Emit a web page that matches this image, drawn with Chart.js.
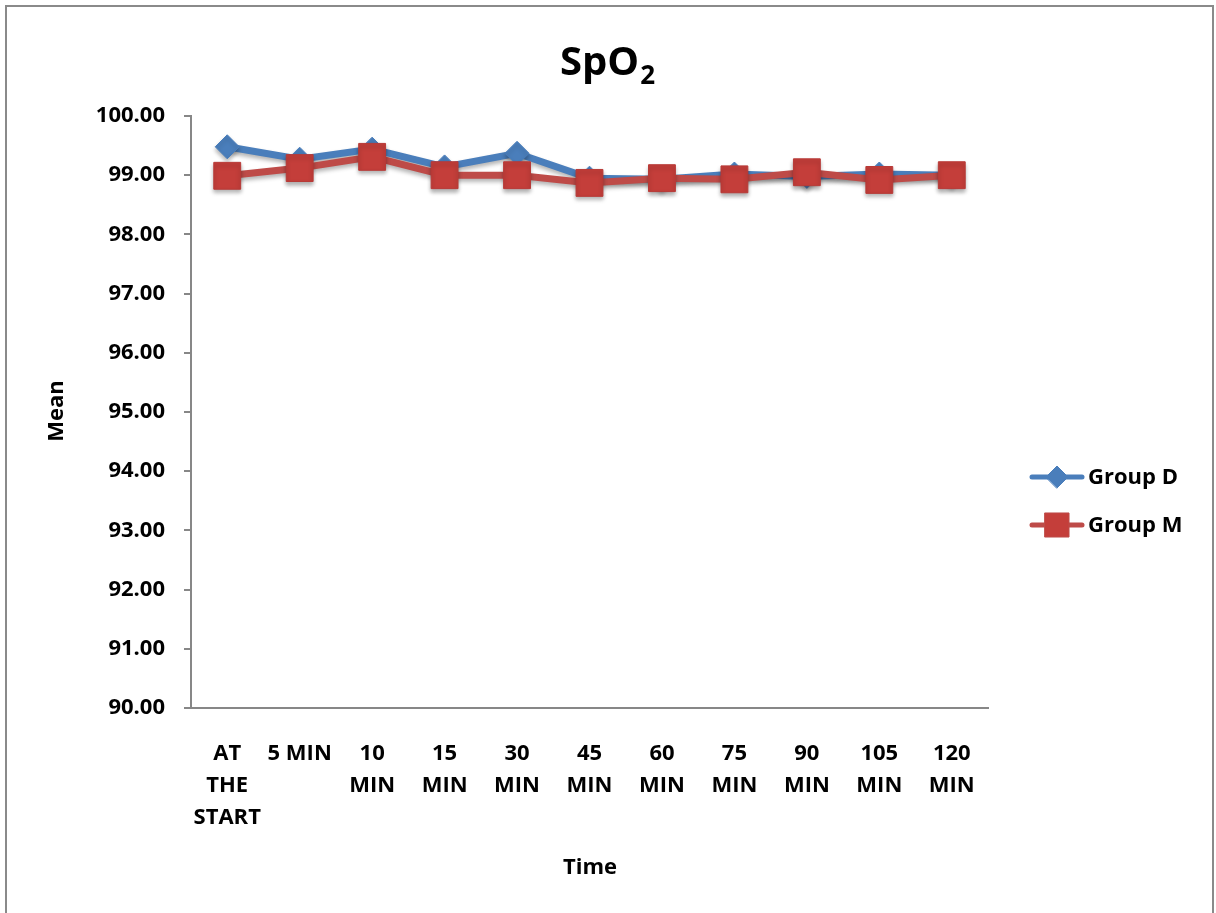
<!DOCTYPE html>
<html>
<head>
<meta charset="utf-8">
<script src="https://cdn.jsdelivr.net/npm/chart.js@4.4.1/dist/chart.umd.min.js"></script>
<style>
  body { margin: 0; background: #fff; }
  #frame { position: absolute; left: 5px; top: 5px; width: 1205px; height: 920px; border: 2px solid #8a8a8a; }
  #wrap { position: absolute; left: 0; top: 0; width: 1216px; height: 913px; }
</style>
</head>
<body>
<div id="frame"></div>
<div id="wrap"><canvas id="grafico" width="1216" height="913"></canvas></div>
<script>
const categorias = [["AT", "THE", "START"], "5 MIN", ["10", "MIN"], ["15", "MIN"], ["30", "MIN"], ["45", "MIN"], ["60", "MIN"], ["75", "MIN"], ["90", "MIN"], ["105", "MIN"], ["120", "MIN"]];
const grupoD = [99.48, 99.27, 99.44, 99.14, 99.37, 98.95, 98.93, 99.02, 98.98, 99.02, 99.0];
const grupoM = [98.99, 99.12, 99.31, 99.0, 99.0, 98.87, 98.95, 98.93, 99.05, 98.92, 99.0];
const yMin = 90, yMax = 100, yPaso = 1;

const fuente = "'Open Sans', sans-serif";
const azul = "#4A7EBB";
const rojo = "#BE4B48";

// titulos, leyenda y sombras dibujados a mano
const extras = {
  id: "extras",
  beforeDatasetDraw(chart) {
    const ctx = chart.ctx;
    ctx.save();
    ctx.shadowColor = "rgba(0,0,0,0.3)";
    ctx.shadowBlur = 4;
    ctx.shadowOffsetY = 3;
  },
  afterDatasetDraw(chart) {
    chart.ctx.restore();
  },
  afterDraw(chart) {
    const ctx = chart.ctx;
    ctx.save();
    ctx.fillStyle = "#000";

    // titulo SpO2
    ctx.font = `bold 40px ${fuente}`;
    ctx.textBaseline = "alphabetic";
    ctx.textAlign = "left";
    const w1 = ctx.measureText("SpO").width;
    ctx.font = `bold 26px ${fuente}`;
    const w2 = ctx.measureText("2").width;
    const x0 = 607 - (w1 + w2) / 2;
    ctx.font = `bold 40px ${fuente}`;
    ctx.fillText("SpO", x0, 75);
    ctx.font = `bold 26px ${fuente}`;
    ctx.fillText("2", x0 + w1 + 1, 84);

    // ejes
    ctx.font = `bold 22px ${fuente}`;
    ctx.textAlign = "center";
    ctx.textBaseline = "middle";
    ctx.fillText("Time", 590, 868);
    ctx.save();
    ctx.translate(57, 411);
    ctx.rotate(-Math.PI / 2);
    ctx.fillText("Mean", 0, 0);
    ctx.restore();

    // leyenda
    const items = [
      { label: "Group D", color: azul, y: 477, estilo: "rectRot", r: 11, fill: azul },
      { label: "Group M", color: rojo, y: 525, estilo: "rect", r: 17, fill: "#C43E3A" }
    ];
    items.forEach(it => {
      ctx.strokeStyle = it.color;
      ctx.lineWidth = 5;
      ctx.lineCap = "round";
      ctx.beginPath();
      ctx.moveTo(1032, it.y);
      ctx.lineTo(1082, it.y);
      ctx.stroke();
      ctx.fillStyle = it.fill;
      ctx.strokeStyle = it.color;
      ctx.lineWidth = 1;
      Chart.helpers.drawPoint(ctx, { pointStyle: it.estilo, radius: it.r, borderWidth: 1 }, 1057, it.y);
      ctx.fillStyle = "#000";
      ctx.textAlign = "left";
      ctx.fillText(it.label, 1088, it.y + 1);
    });
    ctx.restore();
  }
};

new Chart(document.getElementById("grafico"), {
  type: "line",
  data: {
    labels: categorias,
    datasets: [
      {
        label: "Group D",
        data: grupoD,
        borderColor: azul,
        backgroundColor: azul,
        borderWidth: 7,
        pointStyle: "rectRot",
        pointRadius: 12,
        pointBackgroundColor: azul,
        pointBorderColor: azul,
        pointBorderWidth: 1,
        tension: 0,
        order: 1
      },
      {
        label: "Group M",
        data: grupoM,
        borderColor: rojo,
        backgroundColor: rojo,
        borderWidth: 7,
        pointStyle: "rect",
        pointRadius: 19,
        pointBackgroundColor: "#C43E3A",
        pointBorderColor: "#B83A37",
        pointBorderWidth: 1,
        tension: 0,
        order: 0
      }
    ]
  },
  options: {
    responsive: false,
    animation: false,
    layout: { padding: { top: 116, right: 228, bottom: 0, left: 0 } },
    plugins: {
      legend: { display: false },
      title: { display: false },
      tooltip: { enabled: false }
    },
    scales: {
      x: {
        offset: true,
        grid: { display: false },
        border: { display: true, color: "#878787", width: 2 },
        ticks: {
          color: "#000",
          font: { family: fuente, size: 22, weight: "bold", lineHeight: 1.45 },
          padding: 22,
          maxRotation: 0,
          autoSkip: false
        },
        afterFit(scale) { scale.height = 205; }
      },
      y: {
        min: yMin,
        max: yMax,
        grid: { display: true, drawOnChartArea: false, color: "#878787", tickLength: 7, lineWidth: 2 },
        border: { display: true, color: "#878787", width: 2 },
        ticks: {
          stepSize: yPaso,
          color: "#000",
          font: { family: fuente, size: 22, weight: "bold" },
          padding: 19,
          callback: v => v.toFixed(2)
        },
        afterFit(scale) { scale.width = 191; }
      }
    }
  },
  plugins: [extras]
});
</script>
</body>
</html>
